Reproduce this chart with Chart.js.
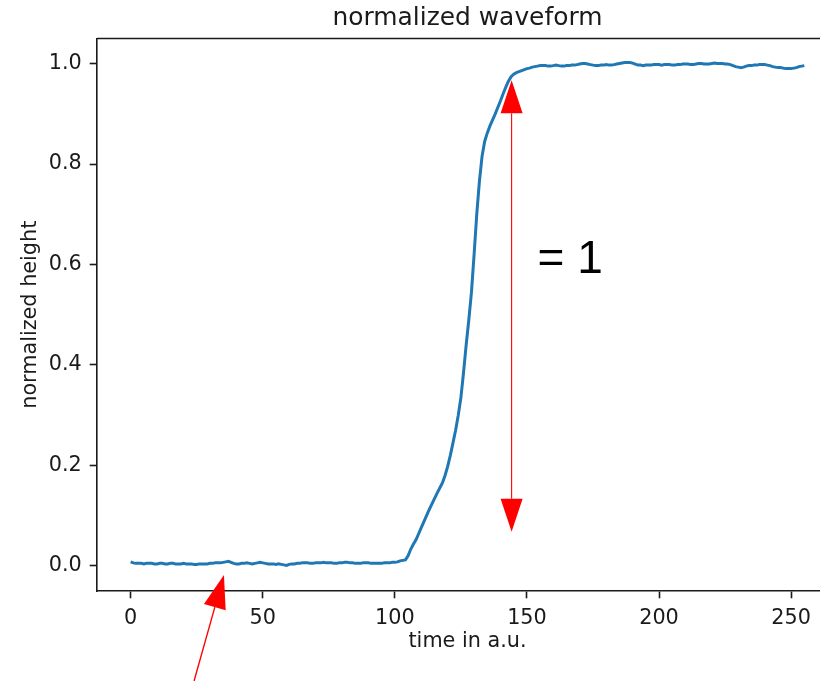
<!DOCTYPE html>
<html>
<head>
<meta charset="utf-8">
<script src="https://cdn.jsdelivr.net/npm/chart.js@4.4.1/dist/chart.umd.min.js"></script>
<style>
  html, body { margin: 0; padding: 0; background: #fff; overflow: hidden; }
  #wrap { width: 880px; height: 681px; }
</style>
</head>
<body>
<div id="wrap"><canvas id="chart" width="880" height="681"></canvas></div>
<script>
// tick labels
const xTicks = [0, 50, 100, 150, 200, 250];
const yTicks = [0.0, 0.2, 0.4, 0.6, 0.8, 1.0];

// normalized waveform, one sample per time step (0..255)
const waveform = [
  0.008,0.006,0.005,0.005,0.005,0.004,0.005,0.005,0.005,0.004,
  0.004,0.005,0.005,0.004,0.004,0.005,0.005,0.004,0.004,0.004,
  0.005,0.004,0.004,0.004,0.003,0.003,0.004,0.004,0.004,0.004,
  0.005,0.005,0.006,0.006,0.006,0.007,0.008,0.009,0.007,0.005,
  0.004,0.004,0.005,0.005,0.006,0.005,0.004,0.005,0.006,0.007,
  0.006,0.005,0.004,0.004,0.004,0.003,0.004,0.003,0.002,0.001,
  0.003,0.004,0.004,0.005,0.005,0.006,0.006,0.006,0.005,0.005,
  0.006,0.006,0.006,0.007,0.006,0.006,0.006,0.005,0.005,0.006,
  0.006,0.007,0.007,0.006,0.006,0.005,0.005,0.005,0.006,0.006,
  0.006,0.005,0.005,0.005,0.005,0.005,0.006,0.006,0.006,0.007,
  0.007,0.008,0.010,0.011,0.012,0.020,0.033,0.043,0.052,0.064,
  0.076,0.088,0.100,0.112,0.123,0.134,0.145,0.155,0.165,0.180,
  0.198,0.220,0.245,0.270,0.300,0.335,0.385,0.440,0.490,0.545,
  0.620,0.700,0.765,0.815,0.845,0.862,0.876,0.888,0.900,0.913,
  0.926,0.940,0.953,0.965,0.974,0.979,0.982,0.984,0.986,0.988,
  0.990,0.991,0.993,0.994,0.995,0.996,0.996,0.996,0.995,0.995,
  0.996,0.997,0.996,0.995,0.995,0.996,0.996,0.997,0.997,0.998,
  0.999,1.000,1.000,0.999,0.998,0.997,0.996,0.996,0.997,0.997,
  0.998,0.997,0.997,0.998,0.999,1.000,1.001,1.002,1.002,1.002,
  1.001,0.999,0.997,0.997,0.996,0.997,0.997,0.997,0.998,0.998,
  0.998,0.997,0.998,0.998,0.998,0.997,0.997,0.998,0.998,0.999,
  0.999,0.999,0.998,0.998,0.999,1.000,1.000,0.999,0.999,0.999,
  1.000,1.001,1.000,1.000,1.000,0.999,0.999,0.998,0.996,0.994,
  0.993,0.992,0.993,0.995,0.996,0.996,0.997,0.997,0.998,0.998,
  0.998,0.997,0.996,0.994,0.993,0.992,0.992,0.991,0.990,0.990,
  0.990,0.991,0.992,0.994,0.995,0.996
];

// annotation anchors in data units
const spanArrow = { x: 144.2, yTop: 0.967, yBottom: 0.068 };
const spanLabel = { x: 154, y: 0.583, text: '= 1' };
const pointerArrow = { fromX: 24.0, fromY: -0.229, toX: 35.3, toY: -0.018 };

const ink = '#1a1a1a';
const font = { family: 'DejaVu Sans', size: 20.75 };

const drawHead = (ctx, tipX, tipY, ang, len, w) => {
    const bx = tipX - len * Math.cos(ang);
    const by = tipY - len * Math.sin(ang);
    ctx.beginPath();
    ctx.moveTo(tipX, tipY);
    ctx.lineTo(bx + w / 2 * Math.sin(ang), by - w / 2 * Math.cos(ang));
    ctx.lineTo(bx - w / 2 * Math.sin(ang), by + w / 2 * Math.cos(ang));
    ctx.closePath();
    ctx.fill();
    return [bx, by];
};

const extras = {
    id: 'extras',
    afterDatasetsDraw(chart) {
        const { ctx, chartArea, scales: { x, y } } = chart;
        ctx.save();
        // top spine
        ctx.strokeStyle = ink;
        ctx.lineWidth = 1.6;
        ctx.beginPath();
        ctx.moveTo(chartArea.left, chartArea.top);
        ctx.lineTo(chartArea.right, chartArea.top);
        ctx.stroke();

        ctx.strokeStyle = '#ff0000';
        ctx.fillStyle = '#ff0000';

        // double arrow
        const ax = x.getPixelForValue(spanArrow.x);
        const aTop = y.getPixelForValue(spanArrow.yTop);
        const aBot = y.getPixelForValue(spanArrow.yBottom);
        const b1 = drawHead(ctx, ax, aTop, -Math.PI / 2, 33, 22);
        const b2 = drawHead(ctx, ax, aBot, Math.PI / 2, 33, 22);
        ctx.lineWidth = 1.1;
        ctx.beginPath();
        ctx.moveTo(b1[0], b1[1]);
        ctx.lineTo(b2[0], b2[1]);
        ctx.stroke();

        // pointer arrow from below
        const px0 = x.getPixelForValue(pointerArrow.fromX);
        const py0 = y.getPixelForValue(pointerArrow.fromY);
        const px1 = x.getPixelForValue(pointerArrow.toX);
        const py1 = y.getPixelForValue(pointerArrow.toY);
        const ang = Math.atan2(py1 - py0, px1 - px0);
        const b3 = drawHead(ctx, px1, py1, ang, 33.5, 22.5);
        ctx.lineWidth = 1.4;
        ctx.beginPath();
        ctx.moveTo(px0, py0);
        ctx.lineTo(b3[0], b3[1]);
        ctx.stroke();

        // "= 1"
        ctx.fillStyle = '#000';
        ctx.font = '46px "Liberation Sans", Arial, sans-serif';
        ctx.textAlign = 'left';
        ctx.textBaseline = 'alphabetic';
        ctx.fillText(spanLabel.text, x.getPixelForValue(spanLabel.x), y.getPixelForValue(spanLabel.y));
        ctx.restore();
    }
};

const tickGrid = {
    display: true,
    drawOnChartArea: false,
    drawTicks: true,
    tickLength: 7.3,
    tickWidth: 1.6,
    tickColor: ink
};

new Chart(document.getElementById('chart'), {
    type: 'line',
    data: {
        datasets: [{
            data: waveform.map((v, i) => ({ x: i, y: v })),
            borderColor: '#1f77b4',
            borderWidth: 3,
            pointRadius: 0,
            tension: 0,
            fill: false
        }]
    },
    options: {
        responsive: false,
        animation: false,
        devicePixelRatio: 1,
        layout: { padding: { left: 0, right: 42, top: 0, bottom: 0 } },
        plugins: {
            legend: { display: false },
            tooltip: { enabled: false },
            title: {
                display: true,
                text: 'normalized waveform',
                color: ink,
                fullSize: false,
                font: { family: 'DejaVu Sans', size: 24.9, weight: 'normal' },
                padding: { top: 3.5, bottom: 5.1 }
            }
        },
        scales: {
            x: {
                type: 'linear',
                min: -12.75,
                max: 267.75,
                afterBuildTicks: s => { s.ticks = xTicks.map(v => ({ value: v })); },
                afterFit: s => { s.height = 90; },
                grid: tickGrid,
                border: { display: true, color: ink, width: 1.6 },
                ticks: { color: ink, font, padding: 8, maxRotation: 0 },
                title: { display: true, text: 'time in a.u.', color: ink, font, padding: { top: 0, bottom: 26.5 } }
            },
            y: {
                type: 'linear',
                min: -0.05,
                max: 1.05,
                afterBuildTicks: s => { s.ticks = yTicks.map(v => ({ value: v })); },
                afterFit: s => { s.width = 97; },
                grid: tickGrid,
                border: { display: true, color: ink, width: 1.6 },
                ticks: { color: ink, font, padding: 8, callback: v => v.toFixed(1) },
                title: { display: true, text: 'normalized height', color: ink, font, padding: { top: 18, bottom: 0 } }
            }
        }
    },
    plugins: [extras]
});
</script>
</body>
</html>
